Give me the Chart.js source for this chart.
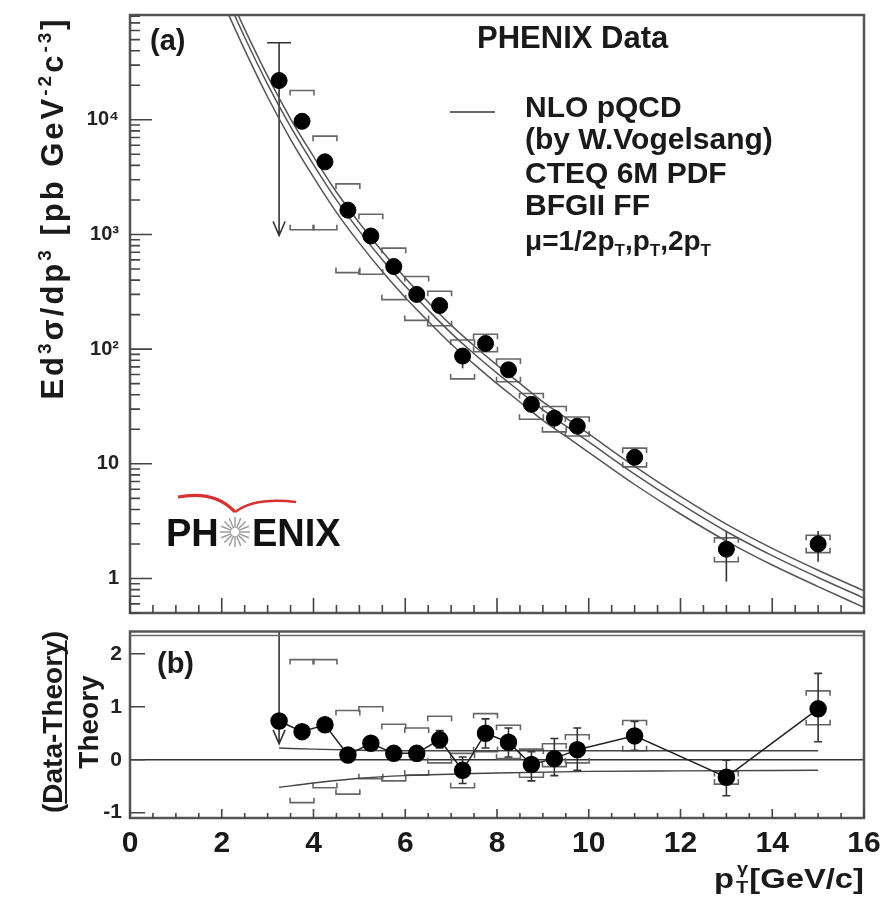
<!DOCTYPE html>
<html>
<head>
<meta charset="utf-8">
<script src="https://cdn.jsdelivr.net/npm/chart.js@4.4.1/dist/chart.umd.min.js"></script>
<style>
  body { margin: 0; background: #fff; }
  #wrap { position: relative; width: 890px; height: 898px; }
  #top { position: absolute; left: 0; top: 0; }
  #bot { position: absolute; left: 0; top: 622px; }
</style>
</head>
<body>
<div id="wrap">
  <canvas id="top" width="890" height="622"></canvas>
  <canvas id="bot" width="890" height="276"></canvas>
</div>
<script>
const FONT = '"Liberation Sans", Arial, Helvetica, sans-serif';

// measured points, pT in GeV/c
const ptX = [3.25, 3.75, 4.25, 4.75, 5.25, 5.75, 6.25, 6.75, 7.25, 7.75, 8.25, 8.75, 9.25, 9.75, 11, 13, 15];

// panel (a) cross section, pb GeV^-2 c^-3
const xsecY = [22000, 9700, 4300, 1630, 970, 525, 300, 240, 87, 112, 66, 33, 25, 21.3, 11.4, 1.8, 2.0];
const xsecErrHi = [47000, 10600, 4700, 1760, 1050, 565, 325, 262, 100, 126, 75, 38, 30, 25, 13.2, 2.6, 2.6];
const xsecErrLo = [980, 8900, 3950, 1500, 890, 485, 275, 218, 68, 98, 57, 28, 20.5, 18, 9.8, 0.94, 1.4];

// systematic brackets in panel (a), as drawn
const sysXTop = [3.75, 4.25, 4.75, 5.25, 5.75, 6.25, 6.75, 7.25, 7.75, 8.25, 8.75, 9.25, 9.75, 11, 13, 15];
const sysHiTop = [18000, 7200, 2760, 1500, 760, 430, 320, 120, 135, 82, 41, 31.6, 25.6, 13.7, 2.26, 2.38];
const sysLoTop = [1100, 1100, 465, 450, 270, 178, 160, 55, 95, 52, 24.5, 19, 17.5, 9.4, 1.4, 1.68];

// NLO pQCD curves, mu = 1/2 pT, pT, 2 pT
const theoryX = [2, 2.5, 3, 3.5, 4, 4.5, 5, 5.5, 6, 6.5, 7, 7.5, 8, 8.5, 9, 9.5, 10, 11, 12, 13, 14, 15, 16];
const theoryHalf = [170000, 61700, 24000, 10200, 4790, 2345, 1260, 709, 417, 257, 162, 107, 72.5, 50.2, 34.7, 25.1, 18.2, 9.5, 5.2, 2.98, 1.83, 1.18, 0.78];
const theoryOne = [145000, 52500, 20400, 8710, 4070, 2000, 1070, 603, 355, 219, 138, 91.2, 61.7, 42.7, 29.5, 21.4, 15.5, 8.13, 4.47, 2.57, 1.58, 1.02, 0.676];
const theoryTwo = [112000, 40700, 15800, 6760, 3160, 1560, 840, 475, 282, 175, 111, 74, 50, 34.6, 23.9, 17.4, 12.6, 6.6, 3.65, 2.12, 1.31, 0.85, 0.56];

// panel (b) (Data-Theory)/Theory
const ratioY = [0.73, 0.53, 0.66, 0.09, 0.31, 0.12, 0.12, 0.38, -0.20, 0.50, 0.33, -0.09, 0.02, 0.19, 0.45, -0.33, 0.96];
const ratioErrHi = [3.0, 0.62, 0.76, 0.2, 0.42, 0.22, 0.25, 0.55, 0.05, 0.77, 0.6, 0.15, 0.4, 0.6, 0.72, -0.01, 1.63];
const ratioErrLo = [0.3, 0.44, 0.56, -0.02, 0.2, 0.02, -0.02, 0.22, -0.45, 0.22, 0.05, -0.4, -0.3, -0.2, 0.18, -0.68, 0.34];

const sysXBot = [3.75, 4.25, 4.75, 5.25, 5.75, 6.25, 6.75, 7.25, 7.75, 8.25, 8.75, 9.25, 9.75, 11, 13, 15];
const sysHiBot = [1.89, 1.89, 0.93, 1.0, 0.67, 0.6, 0.82, 0.12, 0.87, 0.65, 0.2, 0.3, 0.47, 0.74, -0.22, 1.30];
const sysLoBot = [-0.81, -0.53, -0.65, -0.36, -0.40, -0.29, -0.06, -0.53, 0.15, 0.02, -0.33, -0.13, -0.06, 0.17, -0.46, 0.66];

// scale uncertainty band in panel (b)
const bandX = [3.25, 4, 5, 6, 8, 10, 12, 15];
const bandHi = [0.22, 0.2, 0.18, 0.17, 0.17, 0.17, 0.17, 0.17];
const bandLo = [-0.52, -0.44, -0.35, -0.30, -0.25, -0.22, -0.21, -0.20];

// ticks
const yTicksTop = [1, 10, 100, 1000, 10000];
const yLabelsTop = ['1', '10', '10²', '10³', '10⁴'];
const yTicksBot = [-1, 0, 1, 2];

const pts = (xs, ys) => xs.map((x, i) => ({ x, y: ys[i] }));

function richText(ctx, parts, x, y, size, align) {
  const small = Math.round(size * 0.62);
  let w = 0;
  parts.forEach(([t, k]) => { ctx.font = `bold ${k ? small : size}px ${FONT}`; w += ctx.measureText(t).width; });
  let cx = align === 'center' ? x - w / 2 : align === 'right' ? x - w : x;
  parts.forEach(([t, k]) => {
    ctx.font = `bold ${k ? small : size}px ${FONT}`;
    const dy = k === 1 ? -size * 0.4 : k === 2 ? size * 0.2 : 0;
    ctx.fillText(t, cx, y + dy);
    cx += ctx.measureText(t).width;
  });
  return w;
}

function drawBrackets(chart, xs, his, los) {
  const { ctx, chartArea: a, scales: { x, y } } = chart;
  ctx.save();
  ctx.beginPath(); ctx.rect(a.left, a.top, a.right - a.left, a.bottom - a.top); ctx.clip();
  ctx.strokeStyle = '#666'; ctx.lineWidth = 1.6;
  xs.forEach((xv, i) => {
    const x0 = x.getPixelForValue(xv - 0.26), x1 = x.getPixelForValue(xv + 0.26);
    const yh = y.getPixelForValue(his[i]), yl = y.getPixelForValue(los[i]);
    ctx.beginPath();
    ctx.moveTo(x0, yh + 5); ctx.lineTo(x0, yh); ctx.lineTo(x1, yh); ctx.lineTo(x1, yh + 5);
    ctx.moveTo(x0, yl - 5); ctx.lineTo(x0, yl); ctx.lineTo(x1, yl); ctx.lineTo(x1, yl - 5);
    ctx.stroke();
  });
  ctx.restore();
}

function drawErrors(chart, xs, his, los, capFirst) {
  const { ctx, chartArea: a, scales: { x, y } } = chart;
  ctx.save();
  ctx.beginPath(); ctx.rect(a.left, a.top, a.right - a.left, a.bottom - a.top); ctx.clip();
  ctx.strokeStyle = '#333'; ctx.lineWidth = 1.6;
  xs.forEach((xv, i) => {
    const px = x.getPixelForValue(xv);
    const yh = y.getPixelForValue(his[i]), yl = y.getPixelForValue(los[i]);
    ctx.beginPath();
    ctx.moveTo(px, yh); ctx.lineTo(px, yl);
    if (i === 0) {
      // lower limit arrow
      ctx.moveTo(px - 6, yl - 14); ctx.lineTo(px, yl); ctx.lineTo(px + 6, yl - 14);
      if (capFirst) { ctx.moveTo(px - 12, yh); ctx.lineTo(px + 12, yh); }
    } else if (!capFirst) {
      ctx.moveTo(px - 4, yh); ctx.lineTo(px + 4, yh);
      ctx.moveTo(px - 4, yl); ctx.lineTo(px + 4, yl);
    }
    ctx.stroke();
  });
  ctx.restore();
}

function drawFrame(chart, logY, xMaj, xMin, yMaj) {
  const { ctx, chartArea: a, scales: { x, y } } = chart;
  ctx.save();
  ctx.strokeStyle = '#555'; ctx.lineWidth = 2.5;
  ctx.strokeRect(a.left, a.top, a.right - a.left, a.bottom - a.top);
  ctx.lineWidth = 1.6; ctx.strokeStyle = '#444';
  ctx.beginPath();
  for (let v = 0; v <= 16.001; v += 0.5) {
    const px = x.getPixelForValue(v);
    const len = Math.abs(v % 2) < 1e-6 ? xMaj : xMin;
    ctx.moveTo(px, a.bottom); ctx.lineTo(px, a.bottom - len);
  }
  if (logY) {
    for (let d = 0.1; d <= 1e5; d *= 10) {
      for (let k = 1; k <= 9; k++) {
        const v = k * d;
        if (v < y.min || v > y.max) continue;
        const py = y.getPixelForValue(v);
        ctx.moveTo(a.left, py); ctx.lineTo(a.left + (k === 1 ? 22 : 10), py);
      }
    }
  } else {
    yTicksBot.forEach(v => {
      const py = y.getPixelForValue(v);
      ctx.moveTo(a.left, py); ctx.lineTo(a.left + yMaj, py);
    });
  }
  ctx.stroke();
  ctx.restore();
}

const topDecor = {
  id: 'topDecor',
  beforeDatasetsDraw(chart) {
    drawBrackets(chart, sysXTop, sysHiTop, sysLoTop);
    drawErrors(chart, ptX, xsecErrHi, xsecErrLo, true);
  },
  afterDraw(chart) {
    const ctx = chart.ctx;
    drawFrame(chart, true, 15, 8, 0);
    ctx.save();
    ctx.fillStyle = '#1a1a1a';
    ctx.font = `bold 29px ${FONT}`;
    ctx.fillText('(a)', 150, 50);
    ctx.font = `bold 31px ${FONT}`;
    ctx.fillText('PHENIX Data', 477, 48);
    ctx.strokeStyle = '#666'; ctx.lineWidth = 2;
    ctx.beginPath(); ctx.moveTo(450, 112); ctx.lineTo(495, 112); ctx.stroke();
    ctx.font = `bold 30px ${FONT}`;
    ctx.fillText('NLO pQCD', 525, 117);
    ctx.fillText('(by W.Vogelsang)', 525, 149);
    ctx.fillText('CTEQ 6M PDF', 525, 183);
    ctx.fillText('BFGII FF', 525, 215);
    richText(ctx, [['μ=1/2p', 0], ['T', 2], [',p', 0], ['T', 2], [',2p', 0], ['T', 2]], 525, 250, 28, 'left');

    // y axis title
    ctx.save();
    ctx.translate(52, 208);
    ctx.rotate(-Math.PI / 2);
    ctx.letterSpacing = '3px';
    richText(ctx, [['Ed', 0], ['3', 1], ['σ/dp', 0], ['3', 1], [' [pb GeV', 0], ['-2', 1], ['c', 0], ['-3', 1], [']', 0]], 0, 11, 31, 'center');
    ctx.restore();

    // PHENIX logo
    ctx.strokeStyle = '#d8322e'; ctx.lineWidth = 3.2;
    ctx.beginPath(); ctx.moveTo(178, 497); ctx.quadraticCurveTo(215, 490, 235, 512); ctx.stroke();
    ctx.lineWidth = 2.4;
    ctx.beginPath(); ctx.moveTo(235, 512); ctx.quadraticCurveTo(255, 497, 296, 502); ctx.stroke();
    ctx.strokeStyle = '#9a9a9a'; ctx.lineWidth = 1.4;
    ctx.beginPath();
    for (let k = 0; k < 16; k++) {
      const t = k * Math.PI / 8;
      ctx.moveTo(235 + 4 * Math.cos(t), 532 + 4 * Math.sin(t));
      ctx.lineTo(235 + 15 * Math.cos(t), 532 + 15 * Math.sin(t));
    }
    ctx.stroke();
    ctx.fillStyle = '#111';
    ctx.font = `bold 38px ${FONT}`;
    ctx.fillText('PH', 166, 546);
    ctx.fillText('ENIX', 252, 546);
    ctx.restore();
  }
};

const botDecor = {
  id: 'botDecor',
  beforeDatasetsDraw(chart) {
    const { ctx, chartArea: a, scales: { y } } = chart;
    const p0 = y.getPixelForValue(0);
    ctx.save();
    ctx.strokeStyle = '#333'; ctx.lineWidth = 1.5;
    ctx.beginPath(); ctx.moveTo(a.left, p0); ctx.lineTo(a.right, p0); ctx.stroke();
    ctx.restore();
    drawBrackets(chart, sysXBot, sysHiBot, sysLoBot);
    drawErrors(chart, ptX, ratioErrHi, ratioErrLo, false);
  },
  afterDraw(chart) {
    const { ctx, chartArea: a } = chart;
    drawFrame(chart, false, 9, 5, 15);
    ctx.save();
    // double top border
    ctx.strokeStyle = '#666'; ctx.lineWidth = 1.5;
    ctx.beginPath(); ctx.moveTo(a.left, a.top + 4); ctx.lineTo(a.right, a.top + 4); ctx.stroke();
    ctx.fillStyle = '#1a1a1a';
    ctx.font = `bold 29px ${FONT}`;
    ctx.fillText('(b)', 157, 51);

    // y axis title, rotated
    ctx.save();
    ctx.translate(51, 100);
    ctx.rotate(-Math.PI / 2);
    ctx.font = `bold 28px ${FONT}`;
    ctx.textAlign = 'center';
    ctx.fillText('(Data-Theory)', 0, 11);
    const wAll = ctx.measureText('(Data-Theory)').width;
    const wPar = ctx.measureText('(').width;
    ctx.strokeStyle = '#1a1a1a'; ctx.lineWidth = 2;
    ctx.beginPath(); ctx.moveTo(-wAll / 2 + wPar, 15); ctx.lineTo(wAll / 2 - wPar, 15); ctx.stroke();
    ctx.fillText('Theory', 0, 47);
    ctx.restore();

    // x axis title
    ctx.save();
    ctx.translate(864, 266);
    ctx.scale(1.17, 1);
    ctx.font = `bold 28px ${FONT}`;
    ctx.textAlign = 'right';
    ctx.fillText('[GeV/c]', 0, 0);
    const wg = ctx.measureText('[GeV/c]').width;
    ctx.font = `bold 17px ${FONT}`;
    ctx.fillText('γ', -wg - 1, -14);
    ctx.fillText('T', -wg - 1, 5);
    ctx.font = `bold 28px ${FONT}`;
    ctx.fillText('p', -wg - 13, 0);
    ctx.restore();
    ctx.restore();
  }
};

const tickFont = size => ({ family: FONT, size, weight: 'bold' });

new Chart(document.getElementById('top'), {
  type: 'scatter',
  data: {
    datasets: [
      { label: 'PHENIX Data', data: pts(ptX, xsecY), pointRadius: 8, pointBackgroundColor: '#000', pointBorderColor: '#000', showLine: false },
      { label: 'mu=1/2pT', data: pts(theoryX, theoryHalf), showLine: true, pointRadius: 0, borderColor: '#555', borderWidth: 1.5, cubicInterpolationMode: 'monotone' },
      { label: 'mu=pT', data: pts(theoryX, theoryOne), showLine: true, pointRadius: 0, borderColor: '#555', borderWidth: 1.5, cubicInterpolationMode: 'monotone' },
      { label: 'mu=2pT', data: pts(theoryX, theoryTwo), showLine: true, pointRadius: 0, borderColor: '#555', borderWidth: 1.5, cubicInterpolationMode: 'monotone' }
    ]
  },
  options: {
    responsive: false,
    animation: false,
    layout: { padding: { top: 15, right: 26, bottom: 7, left: 0 } },
    plugins: { legend: { display: false }, tooltip: { enabled: false } },
    scales: {
      x: { type: 'linear', min: 0, max: 16, display: false },
      y: {
        type: 'logarithmic', min: 0.5, max: 82000,
        grid: { display: false, drawTicks: false }, border: { display: false },
        afterBuildTicks: s => { s.ticks = yTicksTop.map(v => ({ value: v })); },
        afterFit: s => { s.width = 130; s.paddingTop = 0; s.paddingBottom = 0; },
        ticks: { padding: 11, color: '#222', font: tickFont(20), callback: v => yLabelsTop[yTicksTop.indexOf(v)] ?? '' }
      }
    }
  },
  plugins: [topDecor]
});

new Chart(document.getElementById('bot'), {
  type: 'scatter',
  data: {
    datasets: [
      { label: 'ratio', data: pts(ptX, ratioY), showLine: true, borderColor: '#222', borderWidth: 1.5, pointRadius: 8, pointBackgroundColor: '#000', pointBorderColor: '#000' },
      { label: 'band hi', data: pts(bandX, bandHi), showLine: true, pointRadius: 0, borderColor: '#444', borderWidth: 1.4, cubicInterpolationMode: 'monotone' },
      { label: 'band lo', data: pts(bandX, bandLo), showLine: true, pointRadius: 0, borderColor: '#444', borderWidth: 1.4, cubicInterpolationMode: 'monotone' }
    ]
  },
  options: {
    responsive: false,
    animation: false,
    layout: { padding: { top: 6, right: 26, bottom: 0, left: 0 } },
    plugins: { legend: { display: false }, tooltip: { enabled: false } },
    scales: {
      x: {
        type: 'linear', min: 0, max: 16,
        grid: { display: false, drawTicks: false }, border: { display: false },
        afterFit: s => { s.height = 80; s.paddingLeft = 0; s.paddingRight = 0; },
        ticks: { stepSize: 2, autoSkip: false, maxRotation: 0, padding: 8, color: '#1a1a1a', font: tickFont(30) }
      },
      y: {
        type: 'linear', min: -1.1, max: 2.42,
        grid: { display: false, drawTicks: false }, border: { display: false },
        afterBuildTicks: s => { s.ticks = yTicksBot.map(v => ({ value: v })); },
        afterFit: s => { s.width = 130; s.paddingTop = 0; s.paddingBottom = 0; },
        ticks: { padding: 8, color: '#222', font: tickFont(21) }
      }
    }
  },
  plugins: [botDecor]
});
</script>
</body>
</html>
